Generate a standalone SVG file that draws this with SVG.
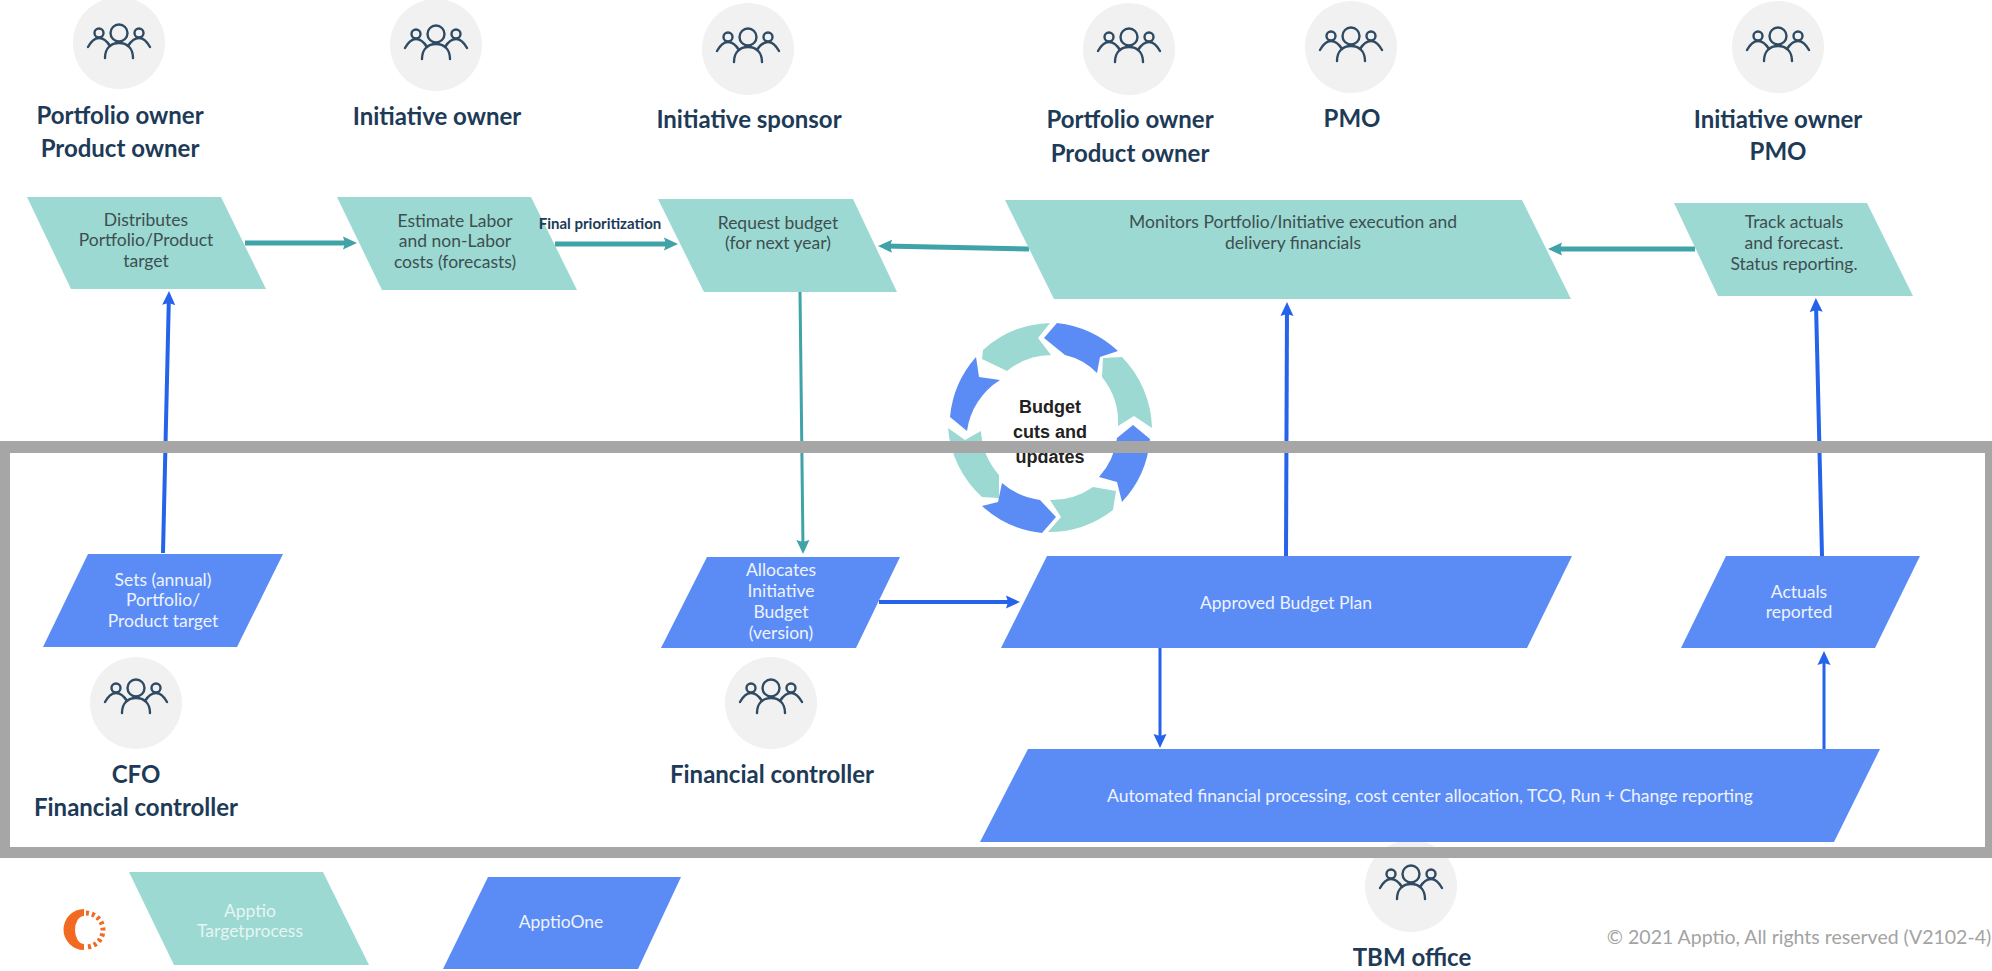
<svg xmlns="http://www.w3.org/2000/svg" width="1992" height="971" viewBox="0 0 1992 971">
<style>
text{font-family:Lato,"Open Sans","Liberation Sans",sans-serif;text-anchor:middle}
.role{font-size:24px;font-weight:700;fill:#1d3a57}
.tl{font-size:17.5px;fill:#3d4f50}
.bl{font-size:17.5px;fill:#eef3ff}
.lg{font-size:17.5px;fill:#e6f5f3}
.ring-t{font-family:"Liberation Sans",sans-serif;font-size:18px;font-weight:700;fill:#222}
.avatar{fill:#f1f1f1}
.p-teal{fill:#9cd9d2}
.p-blue{fill:#5b8cf5}
.icon{fill:none;stroke:#2f4a63;stroke-width:2.4;stroke-linecap:round}
.c-teal{fill:none;stroke:#3fa3a8;stroke-width:5}
.c-teal-thin{fill:none;stroke:#3fa3a8;stroke-width:3}
.c-blue{fill:none;stroke:#2563eb;stroke-width:4}
.c-blue-thin{fill:none;stroke:#2563eb;stroke-width:3}
</style>
<defs>
<marker id="ht" markerUnits="userSpaceOnUse" markerWidth="14" markerHeight="14" refX="8" refY="7" orient="auto"><path d="M0 .5L14 7L0 13.500L2 7Z" fill="#3fa3a8"/></marker>
<marker id="hb" markerUnits="userSpaceOnUse" markerWidth="14" markerHeight="14" refX="8" refY="7" orient="auto"><path d="M0 .5L14 7L0 13.500L2 7Z" fill="#2563eb"/></marker>
<g id="people" class="icon">
<circle cx="0" cy="-10" r="8.500"/><circle cx="-20" cy="-10" r="4.500"/><circle cx="20" cy="-10" r="4.500"/>
<path d="M-14 15C-14 5-8 0 0 0S14 5 14 15"/>
<path d="M-31 4Q-26-5-20-5Q-14-5-9 3"/><path d="M31 4Q26-5 20-5Q14-5 9 3"/>
</g>
</defs>
<rect width="1992" height="971" fill="#fff"/>

<g id="connectors">
<path class="c-blue" marker-end="url(#hb)" d="M163 553L168.900 297"/>
<path class="c-teal" marker-end="url(#ht)" d="M245 243L351 243"/>
<path class="c-teal" marker-end="url(#ht)" d="M555 244L672 244"/>
<path class="c-teal" marker-end="url(#ht)" d="M1029 249L884 246"/>
<path class="c-teal" marker-end="url(#ht)" d="M1695 249L1554 249"/>
<path class="c-teal-thin" marker-end="url(#ht)" d="M800 292L803 548"/>
<path class="c-blue" marker-end="url(#hb)" d="M1286 556L1287 308"/>
<path class="c-blue" marker-end="url(#hb)" d="M1822 556L1816 304"/>
<path class="c-blue" marker-end="url(#hb)" d="M879 602L1014 602"/>
<path class="c-blue-thin" marker-end="url(#hb)" d="M1160 648L1160 742"/>
<path class="c-blue-thin" marker-end="url(#hb)" d="M1824 749L1824 657"/>
</g>

<g id="ring">
<path class="p-blue" d="M1057 323A108 108 0 0 1 1118 351L1100 357L1097 373A65 65 0 0 0 1065 355L1044 338Z"/>
<path class="p-teal" d="M983 350A105 105 0 0 1 1050 323L1038 338L1051 355A72 72 0 0 0 1007 371L982 359Z"/>
<path class="p-blue" d="M976 357A105 105 0 0 0 950 417L967 431A72 72 0 0 1 1000 380L979 377Z"/>
<path class="p-teal" d="M948 428L965 440L981 431A72 72 0 0 0 999 475L999 498L982 497A105 105 0 0 1 948 428Z"/>
<path class="p-blue" d="M1002 483A72 72 0 0 0 1040 500L1056 517L1042 533A105 105 0 0 1 982 506L998 502Z"/>
<path class="p-teal" d="M1050 500A72 72 0 0 0 1093 487L1116 491L1113 510A105 105 0 0 1 1048 532L1061 517Z"/>
<path class="p-blue" d="M1133 425L1150 439A105 105 0 0 1 1122 502L1117 482L1099 477A72 72 0 0 0 1117 438Z"/>
<path class="p-teal" d="M1103 358L1122 357A105 105 0 0 1 1152 428L1134 416L1118 426A72 72 0 0 0 1102 377Z"/>
<text class="ring-t" x="1050" y="413">Budget</text>
<text class="ring-t" x="1050" y="438">cuts and</text>
<text class="ring-t" x="1050" y="463">updates</text>
</g>

<g id="role-portfolio-1"><circle class="avatar" cx="119" cy="43" r="46"/><use href="#people" x="119" y="43"/><text class="role" x="120" y="124">Portfolio owner</text><text class="role" x="120" y="157">Product owner</text></g>
<g id="role-initiative-owner"><circle class="avatar" cx="436" cy="45" r="46"/><use href="#people" x="436" y="44"/><text class="role" x="437" y="125">Initiative owner</text></g>
<g id="role-sponsor"><circle class="avatar" cx="748" cy="49" r="46"/><use href="#people" x="748" y="47"/><text class="role" x="749" y="128">Initiative sponsor</text></g>
<g id="role-portfolio-2"><circle class="avatar" cx="1129" cy="49" r="46"/><use href="#people" x="1129" y="47"/><text class="role" x="1130" y="128">Portfolio owner</text><text class="role" x="1130" y="162">Product owner</text></g>
<g id="role-pmo"><circle class="avatar" cx="1351" cy="47" r="46"/><use href="#people" x="1351" y="46"/><text class="role" x="1352" y="127">PMO</text></g>
<g id="role-initiative-pmo"><circle class="avatar" cx="1778" cy="47" r="46"/><use href="#people" x="1778" y="46"/><text class="role" x="1778" y="128">Initiative owner</text><text class="role" x="1778" y="160">PMO</text></g>
<g id="role-cfo"><circle class="avatar" cx="136" cy="703" r="46"/><use href="#people" x="136" y="698"/><text class="role" x="136" y="783">CFO</text><text class="role" x="136" y="816">Financial controller</text></g>
<g id="role-fc"><circle class="avatar" cx="771" cy="703" r="46"/><use href="#people" x="771" y="698"/><text class="role" x="772" y="783">Financial controller</text></g>
<g id="role-tbm"><circle class="avatar" cx="1411" cy="886" r="46"/><use href="#people" x="1411" y="884"/><text class="role" x="1412" y="966">TBM office</text></g>

<g id="node-distributes"><path class="p-teal" d="M27 197H221L266 289H71Z"/><text class="tl" x="146" y="226">Distributes</text><text class="tl" x="146" y="246">Portfolio/Product</text><text class="tl" x="146" y="267">target</text></g>
<g id="node-estimate"><path class="p-teal" d="M337 197H531L577 290H382Z"/><text class="tl" x="455" y="227">Estimate Labor</text><text class="tl" x="455" y="247">and non-Labor</text><text class="tl" x="455" y="268">costs (forecasts)</text></g>
<text id="label-final" x="600" y="229" style="font-size:15px;font-weight:700;fill:#1d3a57">Final prioritization</text>
<g id="node-request"><path class="p-teal" d="M658 199H853L897 292H704Z"/><text class="tl" x="778" y="229">Request budget</text><text class="tl" x="778" y="249">(for next year)</text></g>
<g id="node-monitors"><path class="p-teal" d="M1005 200H1522L1571 299H1054Z"/><text class="tl" x="1293" y="228">Monitors Portfolio/Initiative execution and</text><text class="tl" x="1293" y="249">delivery financials</text></g>
<g id="node-track"><path class="p-teal" d="M1674 203H1867L1913 296H1718Z"/><text class="tl" x="1794" y="228">Track actuals</text><text class="tl" x="1794" y="249">and forecast.</text><text class="tl" x="1794" y="270">Status reporting.</text></g>
<g id="node-sets"><path class="p-blue" d="M88 554H283L237 647H43Z"/><text class="bl" x="163" y="586">Sets (annual)</text><text class="bl" x="163" y="606">Portfolio/</text><text class="bl" x="163" y="627">Product target</text></g>
<g id="node-allocates"><path class="p-blue" d="M707 557H900L856 648H661Z"/><text class="bl" x="781" y="576">Allocates</text><text class="bl" x="781" y="597">Initiative</text><text class="bl" x="781" y="618">Budget</text><text class="bl" x="781" y="639">(version)</text></g>
<g id="node-approved"><path class="p-blue" d="M1047 556H1572L1527 648H1001Z"/><text class="bl" x="1286" y="609">Approved Budget Plan</text></g>
<g id="node-actuals"><path class="p-blue" d="M1726 556H1920L1875 648H1681Z"/><text class="bl" x="1799" y="598">Actuals</text><text class="bl" x="1799" y="618">reported</text></g>
<g id="node-automated"><path class="p-blue" d="M1028 749H1880L1834 842H980Z"/><text class="bl" x="1430" y="802">Automated financial processing, cost center allocation, TCO, Run + Change reporting</text></g>

<path id="frame" fill="#a6a6a6" fill-rule="evenodd" d="M0 441H1992V858H0ZM10 453V847H1985V453Z"/>

<g id="legend">
<g id="logo"><path fill="#f26a21" d="M84 909A20.500 20.500 0 0 0 84 950L84 944A9 14 0 0 1 84 916Z"/><path fill="none" stroke="#f26a21" stroke-width="5" stroke-dasharray="3 3" d="M86 913A17 17 0 0 1 86 947"/></g>
<g id="legend-teal"><path class="p-teal" d="M129 872H323L369 965H174Z"/><text class="lg" x="250" y="917">Apptio</text><text class="lg" x="250" y="937">Targetprocess</text></g>
<g id="legend-blue"><path class="p-blue" d="M488 877H681L638 969H443Z"/><text class="bl" x="561" y="928">ApptioOne</text></g>
<text id="copyright" x="1799" y="944" style="font-size:19.500px;fill:#a3a3a3">© 2021 Apptio, All rights reserved (V2102-4)</text>
</g>
</svg>
